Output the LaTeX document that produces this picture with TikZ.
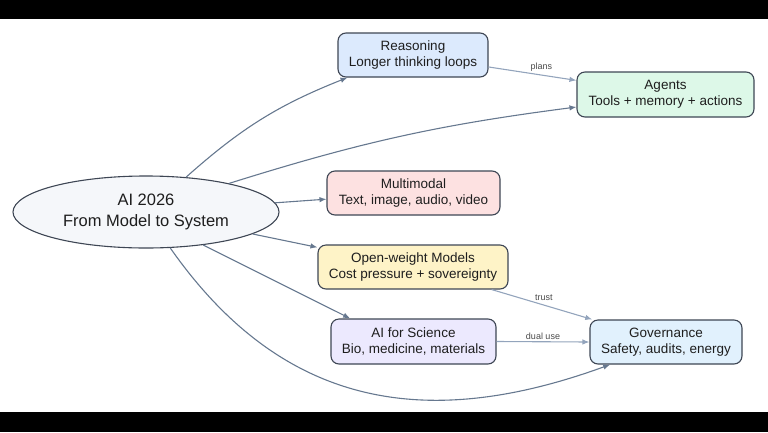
\documentclass[tikz,border=0pt]{standalone}
\usepackage{fontspec}
\setmainfont{Liberation Sans}
\usetikzlibrary{shapes.geometric,arrows.meta}
\definecolor{borderc}{HTML}{3E4654}
\definecolor{textc}{HTML}{1E1E1E}
\definecolor{mainedge}{HTML}{66788F}
\definecolor{subedge}{HTML}{93A4BC}
\definecolor{lblc}{HTML}{4A4A4A}
\definecolor{cEll}{HTML}{F5F7FA}
\definecolor{cReason}{HTML}{DCEAFD}
\definecolor{cAgent}{HTML}{DDF8E8}
\definecolor{cMulti}{HTML}{FDE1E1}
\definecolor{cOpen}{HTML}{FEF3C7}
\definecolor{cSci}{HTML}{ECE9FE}
\definecolor{cGov}{HTML}{E1F1FD}
\tikzset{
  box/.style={draw=borderc, line width=1.1pt, rounded corners=8pt, align=center,
    inner sep=0pt, text=textc, font=\fontsize{13.5}{16.5}\selectfont},
  hub/.style={ellipse, draw=borderc, line width=1.1pt, fill=cEll, align=center,
    inner sep=0pt, text=textc, font=\fontsize{16.5}{20.5}\selectfont},
  mainarrow/.style={draw=mainedge, line width=1.1pt, -{Latex[length=7pt,width=5.5pt]}},
  subarrow/.style={draw=subedge, line width=1.1pt, -{Latex[length=7pt,width=5.5pt]}},
  lbl/.style={text=lblc, font=\fontsize{9}{10}\selectfont, inner sep=1pt}
}
\begin{document}
\begin{tikzpicture}[x=1pt,y=-1pt]
\useasboundingbox (0,0) rectangle (768,432);
\fill[black] (0,0) rectangle (768,19);
\fill[black] (0,412) rectangle (768,432);

\node[hub, minimum width=266pt, minimum height=72pt] (e) at (146,212) {AI 2026\\From Model to System};
\node[box, fill=cReason, minimum width=150pt, minimum height=44pt] (r) at (413,55) {Reasoning\\Longer thinking loops};
\node[box, fill=cAgent, minimum width=177pt, minimum height=45pt] (a) at (665.5,94.5) {Agents\\Tools + memory + actions};
\node[box, fill=cMulti, minimum width=173pt, minimum height=44pt] (m) at (413.5,193) {Multimodal\\Text, image, audio, video};
\node[box, fill=cOpen, minimum width=190pt, minimum height=44pt] (o) at (413,267) {Open-weight Models\\Cost pressure + sovereignty};
\node[box, fill=cSci, minimum width=165pt, minimum height=45pt] (s) at (413.5,341.5) {AI for Science\\Bio, medicine, materials};
\node[box, fill=cGov, minimum width=152pt, minimum height=44pt] (g) at (666,342) {Governance\\Safety, audits, energy};

\draw[mainarrow] (e.41) to[bend left=10] (r.199);
\draw[mainarrow] (e.19.5) to[bend left=5] (a.188);
\draw[mainarrow] (e) -- (m);
\draw[mainarrow] (e) -- (o);
\draw[mainarrow] (e.-30) -- (s.160);
\draw[mainarrow] (e.-56) to[out=-55,in=200,looseness=1.1] (g.202);

\draw[subarrow] (r.-9) -- node[lbl, pos=0.6, above=2pt] (lp) {plans} (a.171);
\draw[subarrow] (o.-16) -- node[lbl, pos=0.52, above=3pt] (lt) {trust} (g.163);
\draw[subarrow] (s.east) -- node[lbl, pos=0.5, above=1pt] (ld) {dual use} (g.west);
\end{tikzpicture}
\end{document}
